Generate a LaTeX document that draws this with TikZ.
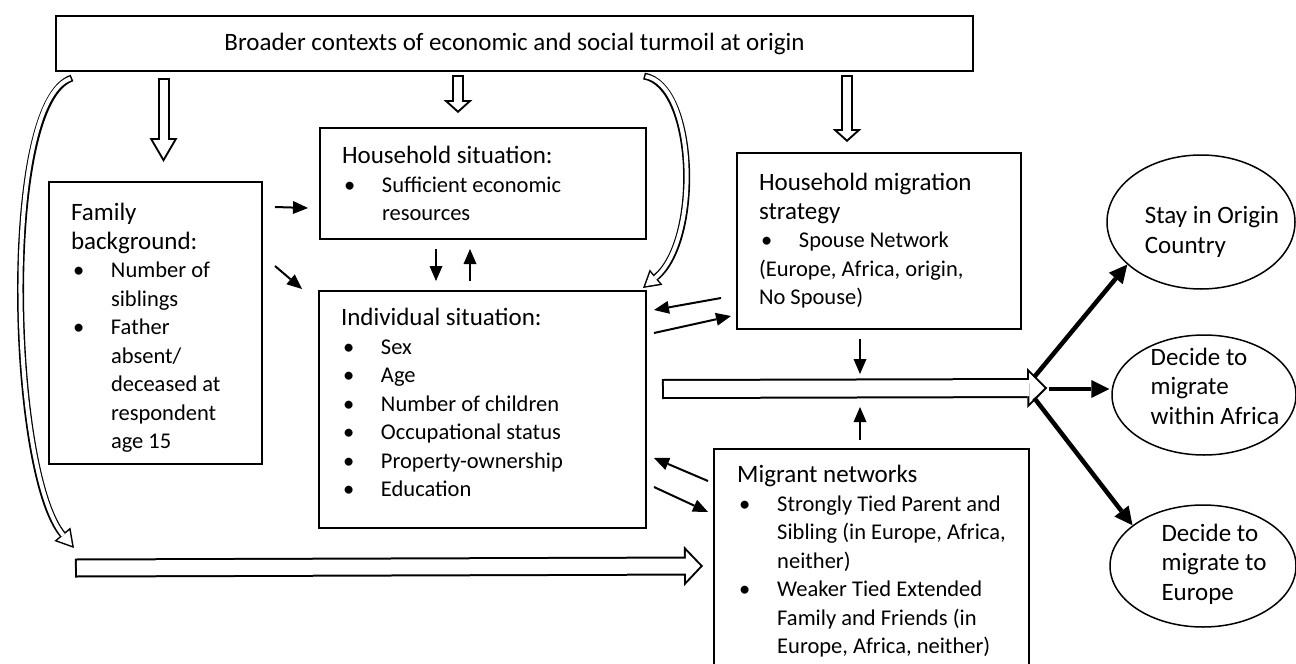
\documentclass[tikz,border=0pt]{standalone}
\usepackage{fontspec}
\setmainfont{Carlito}
\usepackage{tikz}
\usetikzlibrary{arrows.meta,positioning,calc,shapes.geometric}

\tikzset{
  box/.style={draw, line width=2pt, anchor=north west, align=flush left,
    inner xsep=22pt, inner ysep=0pt, font=\fontsize{25}{28.5}\selectfont},
  oval/.style={draw, ellipse, line width=1.5pt, inner sep=0pt,
    font=\fontsize{25}{29.5}\selectfont},
  arr/.style={line width=2pt, -{Triangle[length=15pt,width=13pt,line width=0pt]}},
  thk/.style={line width=4.5pt, -{Triangle[length=18pt,width=18pt,line width=0pt]}},
  % outlined block arrow: shaft, head length, head width, outline
  hollow/.code n args={4}{%
    \pgfmathsetmacro\hsi{#1-2*#4}%
    \pgfmathsetmacro\hin{#4/sin(atan(#3/(2*#2)))}%
    \pgfmathsetmacro\hli{#2-#4-\hin}%
    \pgfmathsetmacro\hwi{#3*\hli/#2}%
    \edef\hollowkeys{line width=#1pt,
      -{Triangle[length=#2pt,width=#3pt,line width=0pt]},
      postaction={draw, white, line width=\hsi pt, shorten <=#4pt, shorten >=\hin pt,
        -{Triangle[length=\hli pt,width=\hwi pt,line width=0pt]}}}%
    \expandafter\tikzset\expandafter{\hollowkeys}%
  },
}
\newcommand{\sm}{\fontsize{22.5}{28.5}\selectfont}
\newcommand{\bul}{\makebox[40pt][l]{\hspace{2pt}\textbullet}}
\newcommand{\bsk}{\hspace*{40pt}}
% ellipse labels sit a little right of centre
\newcommand{\otext}[2][0pt]{\makebox[0pt]{\raisebox{\dimexpr#1-6.25pt\relax}[0pt][0pt]{%
  \begin{tabular}{@{\hspace{22pt}}l@{}}#2\end{tabular}}}}

\begin{document}
\begin{tikzpicture}[x=1pt, y=-1pt]
  \useasboundingbox (0,0) rectangle (1296,664);

  \node (ctx) [box, minimum width=917pt, minimum height=55pt] at (55,15)
    {Broader contexts of economic and social turmoil at origin};
  \node (fam) [box, text width=169pt, minimum height=282pt] at (48,181)
    {\rule{0pt}{27pt}Family\\background:\\\sm\bul Number of\\\bsk siblings\\\bul Father\\\bsk absent/\\\bsk deceased at\\\bsk respondent\\\bsk age 15};
  \node (hh) [box, text width=282pt, minimum height=111pt] at (319,127)
    {Household situation:\\\sm\bul Sufficient economic\\\bsk resources};
  \node (ind) [box, text width=283pt, minimum height=237pt] at (318,290)
    {Individual situation:\\\sm\bul Sex\\\bul Age\\\bul Number of children\\\bul Occupational status\\\bul Property-ownership\\\bul Education\rule[-14pt]{0pt}{14pt}};
  \node (hms) [box, text width=240pt, minimum height=176pt] at (736,152)
    {Household migration\\strategy\\\sm\bul Spouse Network\\(Europe, Africa, origin,\\No Spouse)};
  % runs past the lower edge
  \node (mig) [box, inner xsep=0pt, minimum width=315pt, minimum height=225pt] at (713,448)
    {Migrant networks\\\sm\bul Strongly Tied Parent and\\\sm\bsk Sibling (in Europe, Africa,\\\sm\bsk neither)\\\sm\bul Weaker Tied Extended\\\sm\bsk Family and Friends (in\\\sm\bsk Europe, Africa, neither)};

  \node (stay) [oval, minimum width=188pt, minimum height=134pt] at (1201,222) {\otext[-10.5pt]{Stay in Origin\\Country}};
  \node (afr) [oval, minimum width=184pt, minimum height=120pt] at (1204,395) {\otext[6pt]{Decide to\\migrate\\within Africa}};
  \node (eur) [oval, minimum width=186pt, minimum height=122pt] at (1203,566) {\otext[1pt]{Decide to\\migrate to\\Europe}};

  \coordinate (fork) at ($(afr.west)+(-64,-7)$);

  % block arrows from the context box
  \draw[hollow={12}{24}{28}{2}] ($(fam.north |- ctx.south)+(8,6)$) -- ($(fam.north)+(8,-19)$);
  \draw[hollow={12}{13}{29}{2}] ($(hh.north |- ctx.south)+(-25,3)$) -- ($(hh.north)+(-25,-14)$);
  \draw[hollow={12}{13}{29}{2}] ($(hms.north |- ctx.south)+(-32,3)$) -- ($(hms.north)+(-32,-10)$);
  \draw[hollow={7}{18}{21}{1.5}] ($(ctx.south west)+(17,6)$) .. controls +(-72,24) and +(-64,-76) .. ($(fam.south west)+(26,83)$);
  \draw[hollow={7}{17}{20}{1.5}] ($(hh.north east)+(-3,-51)$) .. controls +(52,9) and +(58,-48) .. ($(ind.north east)+(-4,-2)$);
  \draw[hollow={20}{20}{40}{2}] ($(ind.east)+(15,-20.5)$) -- (fork);
  \draw[hollow={19}{19}{40}{2}] ($(fam.south west)+(27,103)$) -- ($(mig.north west)+(-10,118)$);

  % outcomes
  \draw[thk] ($(fork)+(-13,-11)$) -- (stay.210);
  \draw[thk] ($(fork)+(2,1)$) -- ($(afr.west)+(-2,-6)$);
  \draw[thk] ($(fork)+(-13,10)$) -- (eur.150);

  \draw[arr] ($(fam.north east)+(12,26)$) -- ($(hh.west)+(-11,24.5)$);
  \draw[arr] ($(fam.north east)+(12,85)$) -- ($(ind.north west)+(-16,-1)$);
  \draw[arr] ($(hh.south)+(-47,9)$) -- ($(ind.north)+(-46.5,-9)$);
  \draw[arr] ($(ind.north)+(-12.5,-9)$) -- ($(hh.south)+(-13,9)$);
  \draw[arr] ($(hms.west)+(-15,57)$) -- ($(ind.north east)+(7,20)$);
  \draw[arr] ($(ind.north east)+(7,43)$) -- ($(hms.west)+(-5,75)$);
  \draw[arr] ($(hms.south)+(-19,9)$) -- ($(hms.south)+(-19,44)$);
  \draw[arr] ($(mig.north)+(-11.5,-8)$) -- ($(mig.north)+(-11.5,-41)$);
  \draw[arr] ($(mig.north west)+(-5,33)$) -- ($(ind.north east)+(7,168)$);
  \draw[arr] ($(ind.north east)+(7,197)$) -- ($(mig.north west)+(-5,64)$);
\end{tikzpicture}
\end{document}
